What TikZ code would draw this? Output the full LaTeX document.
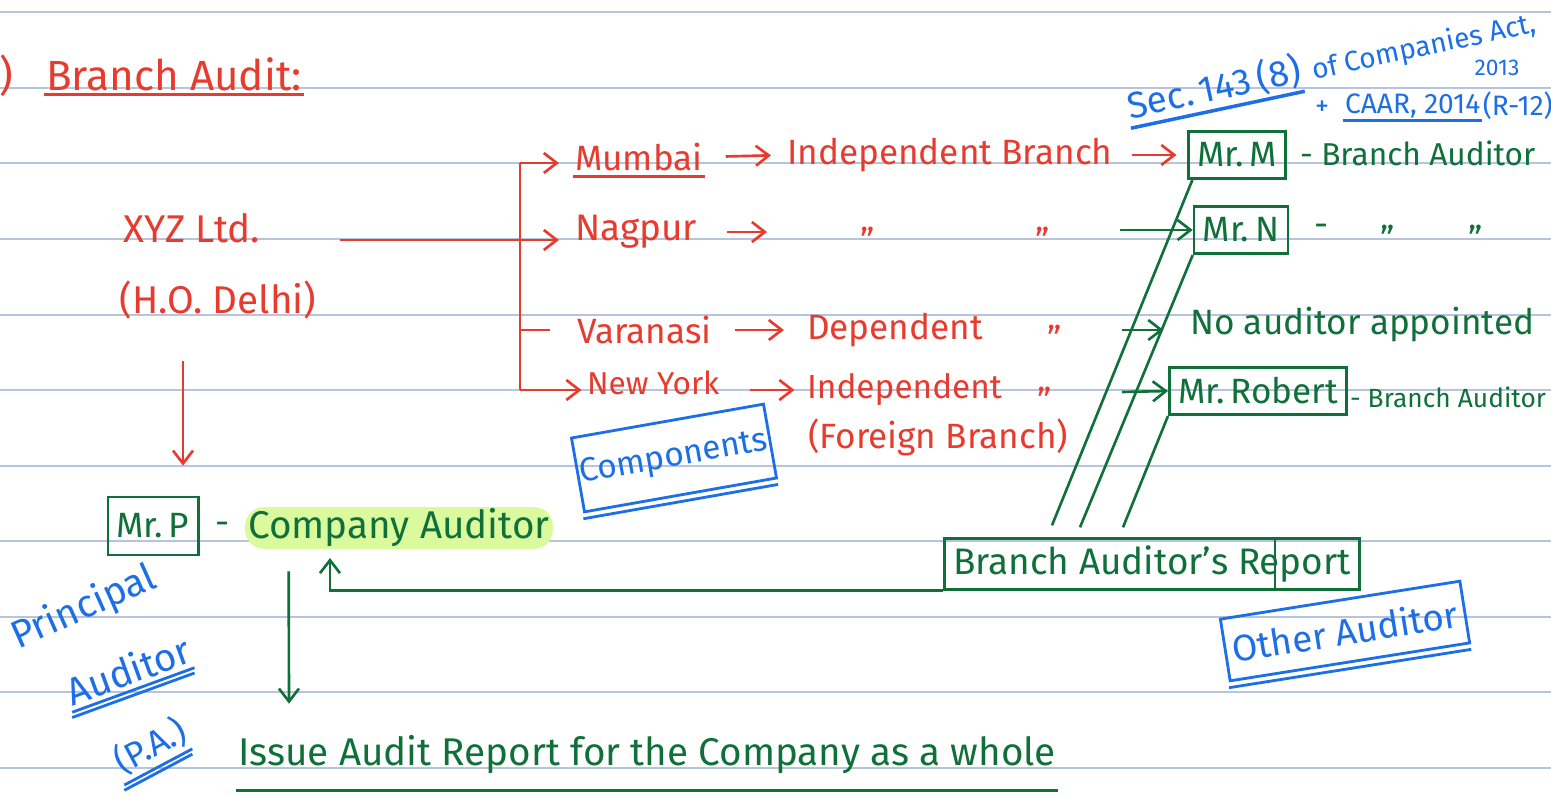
\documentclass[tikz,border=0pt]{standalone}
\usepackage{fontspec}
\setmainfont{Fira Sans}
\usetikzlibrary{positioning,arrows.meta,calc}
\definecolor{redink}{HTML}{E63B2E}
\definecolor{greenink}{HTML}{10703A}
\definecolor{blueink}{HTML}{1C6FE6}
\definecolor{ruling}{HTML}{B7C4DB}
\definecolor{hilite}{HTML}{DBFA9E}

\begin{document}
\begin{tikzpicture}[
  x=0.02cm, y=-0.02cm,
  hand/.style={inner sep=1pt, font=\fontsize{20}{24}\selectfont},
  redtxt/.style={hand, text=redink},
  greentxt/.style={hand, text=greenink},
  bluetxt/.style={hand, text=blueink},
  gbox/.style={hand, draw=greenink, text=greenink, line width=1.5pt,
               inner xsep=5pt, inner ysep=4pt, minimum height=0.95cm},
  bbox/.style={hand, draw=blueink, text=blueink, line width=1.6pt},
  arr/.style={-{Straight Barb[length=2.6mm,width=4mm]}, line width=1.5pt},
  pen/.style={line width=1.5pt}
]
\useasboundingbox (0,0) rectangle (1551,798);
\fill[white] (0,0) rectangle (1551,798);

% ruled page
\foreach \y in {12,88,163,239,315,390,466,541,617,692,768}
  \draw[ruling, line width=0.9pt] (0,\y) -- (1551,\y);

% heading
\node[redtxt, font=\fontsize{24}{28}\selectfont] (num) at (6,76) {)};
\node[redtxt, font=\fontsize{24}{28}\selectfont, anchor=west] (title) at (44,74) {Branch Audit:};
\draw[redink, line width=2.2pt] ([yshift=-1pt]title.south west) -- ([yshift=-1pt]title.south east);

% head office
\node[redtxt, font=\fontsize{22}{26}\selectfont] (xyz) at (192,228) {XYZ Ltd.};
\node[redtxt, font=\fontsize{22}{26}\selectfont] (ho) at (218,300) {(H.O. Delhi)};

% branches
\coordinate (trunk) at (340,240);
\coordinate (fork) at (520,240);
\coordinate (forktop) at (520,163);
\coordinate (forkbot) at (520,390);
\draw[redink, pen] (trunk) -- (fork);
\draw[redink, pen] (forktop) -- (forkbot);

\node[redtxt, anchor=west] (mum) at (573,157) {Mumbai};
\node[redtxt, font=\fontsize{21}{24}\selectfont, anchor=west] (nag) at (573,232) {Nagpur};
\node[redtxt, anchor=west] (var) at (575,330) {Varanasi};
\node[redtxt, font=\fontsize{18}{22}\selectfont, anchor=west] (ny) at (585,383) {New York};
\draw[redink, line width=2pt] ([yshift=-2pt]mum.south west) -- ([yshift=-2pt]mum.south east);

\draw[arr, redink, shorten >=8pt] (forktop) -- (forktop -| mum.west);
\draw[arr, redink, shorten >=8pt] (fork) -- (fork -| nag.west);
\draw[redink, pen, shorten >=14pt] (forktop |- var.west) -- (var.west);
\draw[arr, redink, shorten >=2pt] (forkbot) -- (forkbot -| ny.west);

% branch status
\node[redtxt, anchor=west] (indb) at (785,155) {Independent Branch};
\draw[arr, redink, shorten <=12pt, shorten >=8pt] (mum.east) -- (indb.west);

\coordinate (nagto) at (767,232);
\draw[arr, redink, shorten <=16pt] (nag.east) -- (nagto);
\node[redtxt] (nagq1) at (868,240) {''};
\node[redtxt] (nagq2) at (1043,240) {''};

\node[redtxt, anchor=west] (dep) at (805,330) {Dependent};
\draw[arr, redink, shorten <=12pt, shorten >=12pt] (var.east) -- (dep.west);
\node[redtxt] (varq) at (1055,338) {''};

\node[redtxt, font=\fontsize{19}{22}\selectfont, anchor=west] (indp) at (805,390) {Independent};
\node[redtxt, anchor=west] (fb) at (806,437) {(Foreign Branch)};
\draw[arr, redink, shorten <=16pt, shorten >=6pt] (ny.east |- indp.west) -- (indp.west);
\node[redtxt] (nyq) at (1045,400) {''};

% branch auditors
\node[gbox] (mrm) at (1237,155) {Mr.\,M};
\draw[arr, redink, shorten <=10pt, shorten >=6pt] (indb.east) -- (mrm.west);
\node[greentxt, font=\fontsize{18}{22}\selectfont, anchor=west] (mrmrole) at (1298,153) {- Branch Auditor};

\node[gbox] (mrn) at (1241,230) {Mr.\,N};
\node[greentxt] (mrndash) at (1322,230) {-};
\node[greentxt] (mrnq1) at (1388,238) {''};
\node[greentxt] (mrnq2) at (1476,238) {''};
\coordinate (nagin) at (1120,230);
\draw[arr, greenink] (nagin) -- (mrn.west);

\node[greentxt, anchor=west] (noaud) at (1188,325) {No auditor appointed};
\coordinate (varin) at (1122,330);
\draw[arr, greenink, shorten >=14pt] (varin) -- (varin -| noaud.west);

\node[gbox] (mrr) at (1258,391) {Mr.\,Robert};
\coordinate (nyin) at (1122,392);
\draw[arr, greenink] (nyin) -- (mrr.west);
\node[greentxt, font=\fontsize{15}{18}\selectfont, anchor=west] (mrrrole) at (1348,397) {- Branch Auditor};

% branch auditor's report
\node[gbox, minimum width=8.18cm, font=\fontsize{21}{24}\selectfont] (bar) at (1152,564) {Branch Auditor's Report};
\draw[greenink, pen] ($(bar.north west)+(332,0)$) -- ($(bar.south west)+(332,0)$);
\draw[greenink, pen] ([xshift=3pt]mrm.south west) -- ($(bar.north west)+(109,-12)$);
\draw[greenink, pen] (mrn.south west) -- ($(bar.north west)+(137,-10)$);
\draw[greenink, pen] (mrr.south west) -- ($(bar.north west)+(180,-10)$);

% company auditor
\node[gbox, minimum height=1.16cm] (mrp) at (153,526) {Mr.\,P};
\node[greentxt] (mrpdash) at (223,528) {-};
\node[greentxt, fill=hilite, rounded corners=11pt, font=\fontsize{22}{26}\selectfont,
      minimum width=6.16cm, minimum height=0.8cm] (coaud) at (399,528) {Company Auditor};
\draw[arr, redink] ($(ho.south)+(-35,40)$) -- ($(mrp.north)+(30,-30)$);
\coordinate (back) at (330,558);
\draw[arr, greenink] (bar.south west) -| (back);

\node[greentxt, font=\fontsize{22}{26}\selectfont, anchor=west] (issue) at (236,755) {Issue Audit Report for the Company as a whole};
\draw[greenink, line width=2pt] ([yshift=-8pt]issue.south west) -- ([yshift=-8pt]issue.south east);
\draw[arr, greenink] ($(coaud.south west)+(44,22)$) -- ($(issue.north west)+(53,-30)$);

% blue notes
\node[bbox, rotate=10, minimum width=3.9cm, minimum height=1.5cm, font=\fontsize{19}{22}\selectfont] (comp) at (674,458) {Components};
\draw[blueink, line width=1.6pt] ([yshift=-3pt]comp.south west) -- ([yshift=-3pt]comp.south east);

\node[bbox, rotate=9, minimum width=4.85cm, minimum height=1.25cm, font=\fontsize{21}{24}\selectfont] (other) at (1345,631) {Other Auditor};
\draw[blueink, line width=1.6pt] ([yshift=-3pt]other.south west) -- ([yshift=-3pt]other.south east);

\node[bluetxt, rotate=24, inner sep=0pt, font=\fontsize{22}{26}\selectfont] (princ) at (84,608) {Principal};
\node[bluetxt, rotate=20, inner sep=0pt, font=\fontsize{22}{26}\selectfont] (paud) at (128,670) {Auditor};
\draw[blueink, line width=1.6pt] ([yshift=-3pt]paud.south west) -- ([yshift=-3pt]paud.south east);
\draw[blueink, line width=1.6pt] ([yshift=-6pt]paud.south west) -- ([yshift=-6pt]paud.south east);
\node[bluetxt, rotate=28, inner sep=0pt, font=\fontsize{20}{24}\selectfont] (pa) at (150,746) {(P.A.)};
\draw[blueink, line width=1.6pt] ([yshift=-3pt]pa.south west) -- ([yshift=-3pt]pa.south east);
\draw[blueink, line width=1.6pt] ([yshift=-6pt]pa.south west) -- ([yshift=-6pt]pa.south east);

\node[bluetxt, rotate=12, inner sep=0pt, font=\fontsize{21}{24}\selectfont] (sec) at (1214,88) {Sec.\,143\,(8)};
\draw[blueink, line width=2pt] ([yshift=-2pt]sec.south west) -- ([yshift=-2pt]sec.south east);
\node[bluetxt, rotate=12, inner sep=0pt, font=\fontsize{16}{19}\selectfont] (act) at (1424,48) {of Companies Act,};
\node[bluetxt, font=\fontsize{13}{16}\selectfont] (yr) at (1497,68) {2013};
\node[bluetxt, font=\fontsize{16}{20}\selectfont, anchor=west] (plus) at (1313,108) {+};
\node[bluetxt, font=\fontsize{16}{20}\selectfont, anchor=west] (caar) at (1343,106) {CAAR, 2014};
\node[bluetxt, font=\fontsize{16}{20}\selectfont, anchor=west, inner sep=0pt] (rtwelve) at (caar.east) {(R-12)};
\draw[blueink, line width=1.8pt] (caar.south west) -- (caar.south east);
\end{tikzpicture}
\end{document}
